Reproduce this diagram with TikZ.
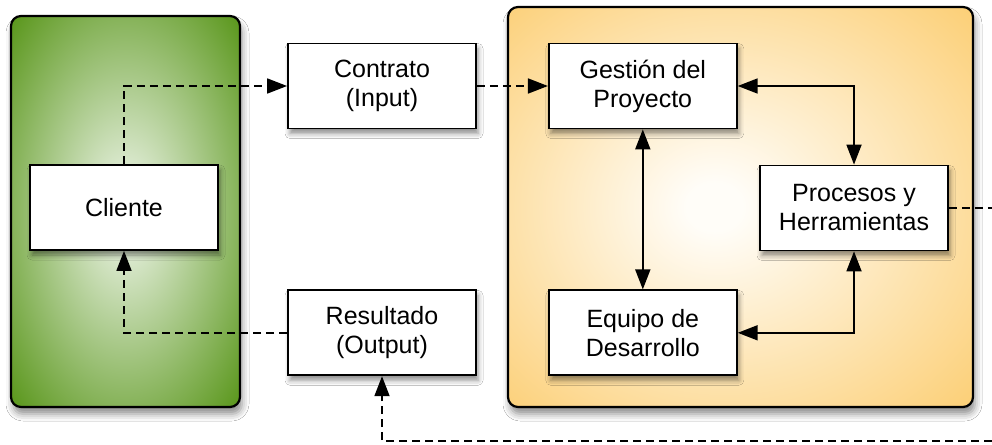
\documentclass[tikz,border=0pt]{standalone}
\usepackage{fontspec}
\setmainfont{Liberation Sans}
\usetikzlibrary{arrows.meta, positioning, shadows.blur}

\definecolor{clientout}{RGB}{86,148,22}
\definecolor{clientin}{RGB}{230,240,222}
\definecolor{teamout}{RGB}{252,207,118}
\definecolor{teamin}{RGB}{255,253,248}
\pgfdeclareradialshading{clientglow}{\pgfpoint{0bp}{0bp}}{color(0bp)=(clientin); color(3bp)=(clientin); color(36bp)=(clientout); color(50bp)=(clientout)}
\pgfdeclareradialshading{teamglow}{\pgfpoint{-3bp}{0bp}}{color(0bp)=(teamin); color(3bp)=(teamin); color(36bp)=(teamout); color(50bp)=(teamout)}

\begin{document}
\begin{tikzpicture}[
    x=1pt, y=-1pt,
    font=\fontsize{25}{29}\selectfont,
    panel/.style={rectangle, draw, shade, line width=2.2pt, rounded corners=10pt, blur shadow={shadow xshift=2pt, shadow yshift=-7pt, shadow blur radius=7pt, shadow opacity=45}},
    box/.style={rectangle, draw, fill=white, line width=1.8pt, minimum width=188pt, minimum height=85pt, align=center, blur shadow={shadow xshift=2pt, shadow yshift=-5pt, shadow blur radius=5pt, shadow opacity=45}},
    arrow/.style={{Triangle[length=20pt,width=15pt]}-{Triangle[length=20pt,width=15pt]}, line width=1.8pt},
    dasharrow/.style={-{Triangle[length=20pt,width=15pt]}, line width=1.8pt, dash pattern=on 8pt off 5pt}
]
\path[fill=white, use as bounding box] (0,0) rectangle (992,444);

% Client side
\node[panel, shading=clientglow, minimum width=229pt, minimum height=391pt] (clientarea) at (125.5,211.5) {};
\node[box] (cliente) at (124,207.5) {Cliente};

% Contract and result
\node[box] (contrato) at (382,86) {Contrato\\(Input)};
\node[box, below=160pt of contrato] (resultado) {Resultado\\(Output)};

% Development side
\node[panel, shading=teamglow, minimum width=465pt, minimum height=400pt] (teamarea) at (740.5,207) {};
\node[box, right=71pt of contrato] (gestion) {Gestión del\\Proyecto};
\node[box, below=160pt of gestion] (equipo) {Equipo de\\Desarrollo};
\node[box] (procesos) at (854,208) {Procesos y\\Herramientas};

% Arrows
\draw[arrow] (gestion.east) -| (procesos.north);
\draw[arrow] (gestion.south) -- (equipo.north);
\draw[arrow] (equipo.east) -| (procesos.south);

% Dashed flow
\draw[dasharrow] (cliente.north) |- (contrato.west);
\draw[dasharrow] (contrato.east) -- (gestion.west);
\draw[dasharrow] (resultado.west) -| (cliente.south);
\coordinate (loop) at (1010,441);
\draw[dasharrow] (procesos.east) -| (loop) -| (resultado.south);

\end{tikzpicture}
\end{document}
